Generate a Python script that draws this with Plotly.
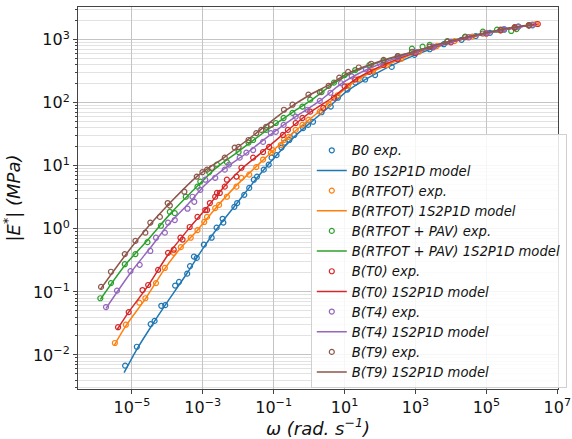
import numpy as np
import plotly.graph_objects as go

# ---- Experimental |E*| master-curve points (log10 omega, log10 |E*|) ----
b0_exp_lw = [-5.19, -4.86, -4.47, -4.36, -4.17, -4.06, -3.78, -3.67, -3.44, -3.36, -3.25, -3.17,
             -2.97, -2.75, -2.61, -2.44, -2.42, -2.11, -2.03, -1.83, -1.69, -1.56, -1.47, -1.28,
             -1.14, -1.06, -0.92, -0.78, -0.69, -0.56, -0.42, -0.17, -0.03, 0.11, 0.35, 0.61,
             0.81, 1.08, 1.31, 1.58, 1.86, 2.33, 2.97, 3.4, 3.8, 4.3, 4.7, 5.1, 5.5, 5.9, 6.3]
b0_exp_le = [-2.17, -1.87, -1.51, -1.46, -1.22, -1.21, -0.90, -0.84, -0.71, -0.59, -0.44, -0.46,
             -0.25, -0.14, 0.02, 0.16, 0.10, 0.35, 0.41, 0.54, 0.65, 0.78, 0.83, 0.94,
             1.02, 1.13, 1.17, 1.29, 1.37, 1.41, 1.49, 1.60, 1.65, 1.70, 1.85, 1.94,
             2.08, 2.21, 2.32, 2.37, 2.44, 2.57, 2.76, 2.85, 2.93, 3.00, 3.06, 3.11, 3.16, 3.21, 3.23]

rtfot_exp_lw = [-5.48, -5.17, -4.79, -4.62, -4.32, -4.07, -3.82, -3.62, -3.34, -3.15, -2.96, -2.88,
                -2.65, -2.54, -2.32, -2.05, -1.91, -1.69, -1.49, -1.30, -1.08, -1.02, -0.80, -0.71,
                -0.58, -0.38, -0.19, -0.02, 0.3, 0.55, 0.8, 1.1, 1.4, 1.8, 2.2, 2.6, 3.1, 3.6,
                4.1, 4.6, 5.0, 5.4, 5.8, 6.2, 6.4]
rtfot_exp_le = [-1.81, -1.52, -1.17, -1.10, -0.86, -0.62, -0.38, -0.29, -0.14, -0.02, 0.11, 0.19,
                0.33, 0.38, 0.51, 0.67, 0.81, 0.86, 0.98, 1.10, 1.21, 1.25, 1.33, 1.41,
                1.46, 1.57, 1.65, 1.73, 1.86, 1.98, 2.12, 2.27, 2.38, 2.50, 2.60, 2.70, 2.81, 2.90,
                2.98, 3.05, 3.10, 3.15, 3.20, 3.23, 3.25]

pav_exp_lw = [-5.89, -5.59, -5.20, -4.90, -4.56, -4.18, -3.93, -3.79, -3.48, -3.15, -3.07, -2.82,
              -2.60, -2.32, -1.99, -1.71, -1.58, -1.21, -0.94, -0.72, -0.47, -0.19, 0.03, 0.35,
              0.7, 1.0, 1.3, 1.7, 2.1, 2.5, 2.9, 3.2, 3.4, 3.9, 4.4, 4.9, 5.3, 5.7, 5.85, 6.2]
pav_exp_le = [-1.10, -0.86, -0.56, -0.40, -0.21, 0.05, 0.27, 0.25, 0.51, 0.67, 0.75, 0.90,
              1.02, 1.06, 1.22, 1.37, 1.41, 1.57, 1.68, 1.76, 1.84, 1.94, 2.05, 2.17,
              2.32, 2.44, 2.52, 2.60, 2.66, 2.74, 2.86, 2.89, 2.92, 2.98, 3.05, 3.13, 3.16, 3.14, 3.17, 3.23]

t0_exp_lw = [-5.39, -5.09, -4.70, -4.54, -4.26, -3.98, -3.82, -3.63, -3.57, -3.37, -3.15, -2.93,
             -2.88, -2.80, -2.65, -2.60, -2.52, -2.38, -2.32, -2.05, -1.91, -1.58, -1.30, -1.13,
             -0.74, -0.60, -0.38, -0.19, 0.03, 0.4, 0.7, 1.0, 1.3, 1.7, 2.1, 2.5, 3.0, 3.5,
             4.0, 4.5, 5.0, 5.4, 5.8, 6.2, 6.45]
t0_exp_le = [-1.56, -1.32, -0.97, -0.89, -0.65, -0.38, -0.33, -0.14, -0.17, 0.03, 0.19, 0.30,
             0.30, 0.41, 0.51, 0.57, 0.57, 0.67, 0.78, 0.83, 0.97, 1.13, 1.22, 1.30,
             1.49, 1.57, 1.68, 1.76, 1.86, 1.92, 2.08, 2.26, 2.37, 2.49, 2.60, 2.69, 2.79, 2.88,
             2.96, 3.04, 3.10, 3.15, 3.19, 3.23, 3.25]

t4_exp_lw = [-5.73, -5.42, -5.04, -4.78, -4.48, -4.32, -4.07, -3.98, -3.79, -3.43, -3.29, -3.24,
             -3.07, -2.93, -2.65, -2.38, -2.26, -1.96, -1.77, -1.58, -1.30, -1.08, -0.94, -0.72,
             -0.38, -0.05, 0.3, 0.6, 0.9, 1.2, 1.6, 2.0, 2.5, 3.0, 3.5, 4.0, 4.5, 5.0, 5.5, 5.9, 6.3]
t4_exp_le = [-1.24, -0.98, -0.67, -0.57, -0.35, -0.14, -0.06, 0.10, 0.14, 0.32, 0.51, 0.43,
             0.62, 0.78, 0.81, 0.94, 1.02, 1.13, 1.21, 1.25, 1.38, 1.52, 1.54, 1.65,
             1.78, 1.89, 2.03, 2.16, 2.31, 2.42, 2.53, 2.62, 2.72, 2.81, 2.89, 2.97, 3.04, 3.11, 3.17, 3.21, 3.24]

t9_exp_lw = [-5.87, -5.59, -5.20, -4.90, -4.62, -4.48, -4.21, -3.99, -3.93, -3.52, -3.17, -3.01,
             -2.88, -2.74, -2.38, -2.10, -1.99, -1.71, -1.49, -1.35, -1.21, -1.07, -0.71, -0.47,
             -0.02, 0.3, 0.55, 0.85, 1.1, 1.4, 1.75, 2.1, 2.5, 2.9, 3.4, 3.9, 4.4, 4.9, 5.4, 5.8, 6.2]
t9_exp_le = [-0.92, -0.68, -0.40, -0.19, -0.06, 0.10, 0.19, 0.41, 0.37, 0.59, 0.83, 0.90,
             0.94, 0.97, 1.13, 1.29, 1.30, 1.41, 1.52, 1.57, 1.62, 1.65, 1.89, 1.97,
             2.13, 2.17, 2.27, 2.40, 2.49, 2.56, 2.62, 2.68, 2.74, 2.81, 2.89, 2.97, 3.04, 3.10, 3.16, 3.20, 3.23]

# ---- 1S2P1D model curves (log10 omega, log10 |E*|) ----
b0_mod_lw = [-5.22, -4.86, -4.47, -4.06, -3.44, -2.97, -2.44, -2.03, -1.47, -0.92, -0.42, 0.11,
             0.61, 1.08, 2.0, 3.0, 4.0, 5.0, 5.7, 6.4]
b0_mod_le = [-2.28, -1.91, -1.56, -1.21, -0.70, -0.29, 0.12, 0.41, 0.81, 1.17, 1.46, 1.72,
             1.96, 2.19, 2.50, 2.76, 2.96, 3.11, 3.19, 3.24]

rtfot_mod_lw = [-5.5, -5.17, -4.62, -4.07, -3.62, -3.15, -2.65, -2.05, -1.49, -1.02, -0.38, 0.3,
                0.8, 1.4, 2.2, 3.1, 4.1, 5.0, 5.8, 6.4]
rtfot_mod_le = [-1.85, -1.54, -1.11, -0.63, -0.30, -0.02, 0.32, 0.69, 0.99, 1.24, 1.56, 1.87,
                2.12, 2.38, 2.60, 2.81, 2.98, 3.10, 3.20, 3.25]

pav_mod_lw = [-5.89, -5.2, -4.56, -3.9, -3.15, -2.6, -1.99, -1.21, -0.47, 0.03, 0.7, 1.3,
              2.0, 3.0, 4.0, 5.0, 5.7, 6.3]
pav_mod_le = [-1.12, -0.58, -0.18, 0.25, 0.68, 0.98, 1.23, 1.56, 1.85, 2.03, 2.31, 2.50,
              2.65, 2.82, 2.98, 3.11, 3.19, 3.24]

t0_mod_lw = [-5.42, -5.09, -4.54, -3.98, -3.37, -2.88, -2.38, -1.91, -1.30, -0.74, 0.03, 0.7,
             1.3, 2.1, 3.0, 4.0, 5.0, 5.8, 6.45]
t0_mod_le = [-1.60, -1.32, -0.90, -0.41, 0.02, 0.34, 0.68, 0.95, 1.23, 1.50, 1.85, 2.10,
             2.37, 2.60, 2.80, 2.96, 3.10, 3.19, 3.25]

t4_mod_lw = [-5.73, -5.04, -4.48, -3.98, -3.42, -2.93, -2.38, -1.77, -1.08, -0.38, 0.3, 0.9,
             1.6, 2.5, 3.5, 4.5, 5.5, 6.3]
t4_mod_le = [-1.26, -0.70, -0.30, 0.06, 0.39, 0.70, 0.96, 1.20, 1.50, 1.78, 2.03, 2.30,
             2.52, 2.72, 2.89, 3.04, 3.16, 3.24]

t9_mod_lw = [-5.89, -5.2, -4.5, -3.93, -3.17, -2.38, -1.49, -0.71, 0.0, 0.55, 1.1, 2.0,
             3.0, 4.0, 5.0, 5.7, 6.3]
t9_mod_le = [-0.96, -0.43, 0.06, 0.41, 0.83, 1.14, 1.52, 1.86, 2.12, 2.28, 2.47, 2.66,
             2.82, 2.98, 3.11, 3.19, 3.24]

series_names = ["B0", "B(RTFOT)", "B(RTFOT + PAV)", "B(T0)", "B(T4)", "B(T9)"]
series_colors = ["#1f77b4", "#ff7f0e", "#2ca02c", "#d62728", "#9467bd", "#8c564b"]
exp_data = [(b0_exp_lw, b0_exp_le), (rtfot_exp_lw, rtfot_exp_le), (pav_exp_lw, pav_exp_le),
            (t0_exp_lw, t0_exp_le), (t4_exp_lw, t4_exp_le), (t9_exp_lw, t9_exp_le)]
mod_data = [(b0_mod_lw, b0_mod_le), (rtfot_mod_lw, rtfot_mod_le), (pav_mod_lw, pav_mod_le),
            (t0_mod_lw, t0_mod_le), (t4_mod_lw, t4_mod_le), (t9_mod_lw, t9_mod_le)]

x_tick_exps = [-5, -3, -1, 1, 3, 5, 7]
y_tick_exps = [-2, -1, 0, 1, 2, 3]


def pow10_label(e):
    return "10<sup>" + str(e).replace("-", "\u2212") + "</sup>"


fig = go.Figure()
for name, color, (elw, ele), (mlw, mle) in zip(series_names, series_colors, exp_data, mod_data):
    fig.add_trace(go.Scatter(
        x=10.0 ** np.array(elw), y=10.0 ** np.array(ele), mode="markers",
        name=f"<i>{name} exp.</i>",
        marker=dict(symbol="circle-open", size=5, color=color, line=dict(width=1.2, color=color)),
    ))
    fig.add_trace(go.Scatter(
        x=10.0 ** np.array(mlw), y=10.0 ** np.array(mle), mode="lines",
        name=f"<i>{name} 1S2P1D model</i>",
        line=dict(color=color, width=1.5, shape="spline", smoothing=0.8),
    ))

axis_common = dict(
    type="log", showline=True, linecolor="#444", linewidth=1, mirror=True,
    ticks="outside", ticklen=4, tickcolor="#444", gridcolor="#c4c4c4", gridwidth=1,
    zeroline=False, automargin=False,
    tickfont=dict(family="DejaVu Sans", size=16, color="#111"),
)

fig.update_xaxes(
    **axis_common,
    range=[-6.52, 7.02],
    tickmode="array", tickvals=[10.0 ** e for e in x_tick_exps],
    ticktext=[pow10_label(e) for e in x_tick_exps],
    ticklabeloverflow="allow",
    title=dict(text="<i>\u03c9 (rad. s<sup>\u22121</sup>)</i>",
               font=dict(family="DejaVu Sans", size=18, color="#111"), standoff=6),
)
fig.update_yaxes(
    **axis_common,
    range=[-2.54, 3.52],
    tickmode="array", tickvals=[10.0 ** e for e in y_tick_exps],
    ticktext=[pow10_label(e) for e in y_tick_exps],
    minor=dict(dtick="D1", showgrid=True, gridcolor="#e2e2e2", ticks="outside",
               ticklen=2, tickcolor="#444"),
    title=dict(text="<i>|E<sup>*</sup>| (MPa)</i>",
               font=dict(family="DejaVu Sans", size=18, color="#111"), standoff=8),
)

fig.update_layout(
    width=572, height=439, autosize=False,
    margin=dict(l=78, r=5, t=7, b=50),
    paper_bgcolor="white", plot_bgcolor="white",
    font=dict(family="DejaVu Sans", color="#111"),
    legend=dict(
        x=0.485, y=0.667, xanchor="left", yanchor="top",
        bgcolor="rgba(255,255,255,0.85)", bordercolor="#d0d0d0", borderwidth=1,
        font=dict(family="DejaVu Sans", size=13.2, color="#111"),
        itemsizing="trace",
    ),
)

fig.write_html("out.html", config={"responsive": False})
